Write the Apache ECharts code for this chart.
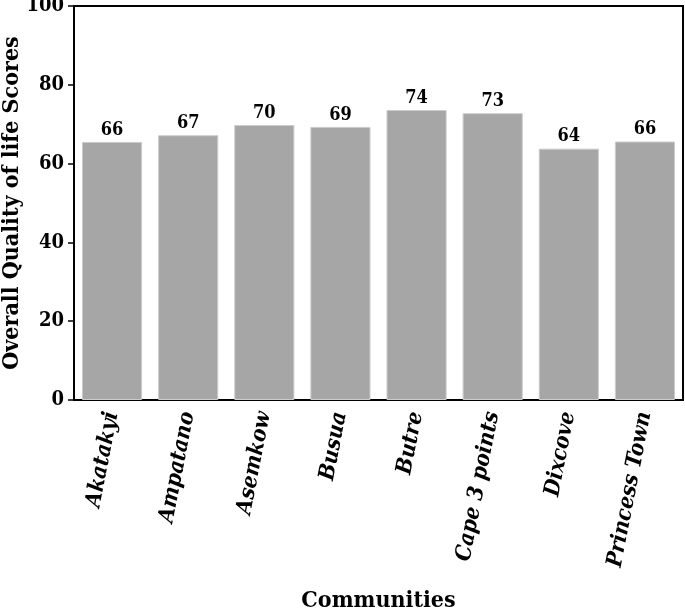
<!DOCTYPE html>
<html>
<head>
<meta charset="utf-8">
<script src="https://cdn.jsdelivr.net/npm/echarts@6/dist/echarts.min.js"></script>
<style>
  html, body { margin: 0; padding: 0; background: #fff; }
  #chart { width: 685px; height: 612px; }
</style>
</head>
<body>
<div id="chart"></div>
<script>
// communities and their scores
var communities = ['Akatakyi', 'Ampatano', 'Asemkow', 'Busua', 'Butre', 'Cape 3 points', 'Dixcove', 'Princess Town']
var scores = [65.5, 67.2, 69.8, 69.3, 73.6, 72.8, 63.8, 65.6]
var yTicks = [0, 20, 40, 60, 80, 100]

var serif = '"DejaVu Serif Condensed", "DejaVu Serif", "Liberation Serif", serif'

var myChart = echarts.init(document.getElementById('chart'))
var options = {
  animation: false,
  grid: {
    left: 74, right: 2, top: 6, bottom: 212,
    outerBoundsMode: 'none',
    show: true, borderColor: '#000', borderWidth: 2
  },
  xAxis: {
    type: 'category',
    data: communities,
    name: 'Communities',
    nameLocation: 'middle',
    nameGap: 190,
    nameMoveOverlap: false,
    nameTextStyle: { fontFamily: serif, fontWeight: 'bold', fontSize: 23, color: '#000' },
    axisLine: { lineStyle: { color: '#000', width: 2 } },
    axisTick: { alignWithLabel: true, length: 6, lineStyle: { color: '#000', width: 1.5 } },
    axisLabel: {
      rotate: 79,
      interval: 0,
      margin: 12,
      fontFamily: serif,
      fontWeight: 'bold',
      fontStyle: 'italic',
      fontSize: 22,
      color: '#000'
    }
  },
  yAxis: {
    type: 'value',
    min: yTicks[0],
    max: yTicks[yTicks.length - 1],
    interval: 20,
    name: 'Overall Quality of life Scores',
    nameLocation: 'middle',
    nameGap: 50,
    nameMoveOverlap: false,
    nameTextStyle: { fontFamily: serif, fontWeight: 'bold', fontSize: 23, color: '#000' },
    splitLine: { show: false },
    axisLine: { show: true, lineStyle: { color: '#000', width: 2 } },
    axisTick: { show: true, length: 6, lineStyle: { color: '#000', width: 1.5 } },
    axisLabel: { fontFamily: serif, fontWeight: 'bold', fontSize: 20, color: '#000', margin: 10 }
  },
  series: [{
    type: 'bar',
    data: scores,
    barCategoryGap: '21%',
    itemStyle: { color: '#a6a6a6', borderColor: '#cccccc', borderWidth: 1 },
    label: {
      show: true,
      position: 'top',
      distance: 3,
      fontFamily: serif,
      fontWeight: 'bold',
      fontSize: 18,
      color: '#000',
      formatter: function (p) { return Math.round(p.value) }
    }
  }]
}
myChart.setOption(options)
</script>
</body>
</html>
